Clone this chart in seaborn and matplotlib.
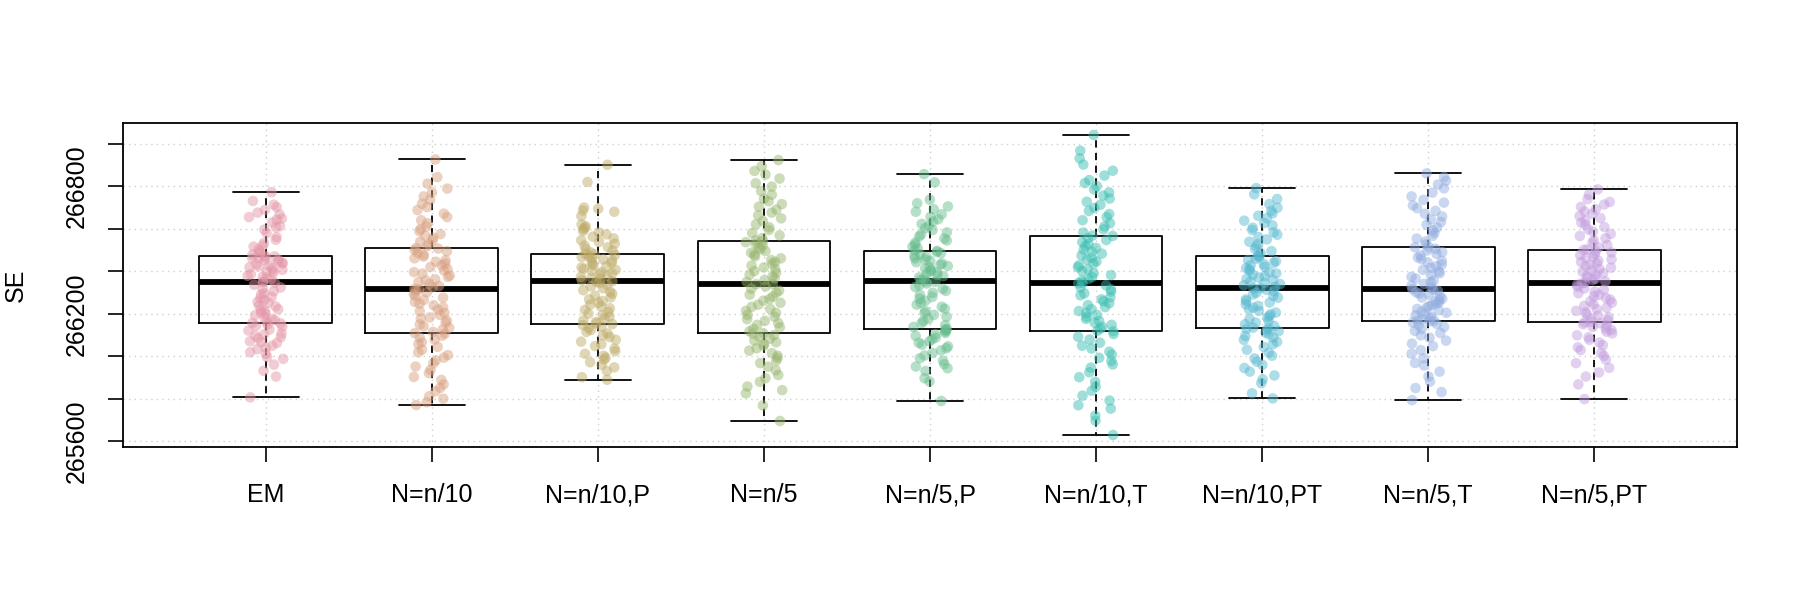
import numpy as np
import pandas as pd
import matplotlib
matplotlib.use("Agg")
import matplotlib.pyplot as plt
import seaborn as sns

categories = ["EM", "N=n/10", "N=n/10,P", "N=n/5", "N=n/5,P",
              "N=n/10,T", "N=n/10,PT", "N=n/5,T", "N=n/5,PT"]

se_em = [265807, 265905, 265932, 265961, 265988, 265996, 266012, 266019, 266034, 266041,
         266050, 266063, 266066, 266071, 266084, 266090, 266097, 266103, 266108, 266121,
         266126, 266139, 266144, 266150, 266155,
         266157, 266162, 266170, 266176, 266181, 266193, 266199, 266205, 266214, 266219,
         266221, 266235, 266238, 266252, 266256, 266264, 266273, 266279, 266291, 266297,
         266306, 266318, 266324, 266337, 266347,
         266349, 266352, 266361, 266370, 266374, 266379, 266386, 266393, 266398, 266404,
         266407, 266415, 266419, 266423, 266428, 266432, 266437, 266441, 266446, 266452,
         266455, 266461, 266463, 266467, 266470,
         266472, 266478, 266487, 266494, 266503, 266516, 266521, 266533, 266548, 266561,
         266579, 266596, 266607, 266612, 266630, 266642, 266648, 266655, 266668, 266676,
         266689, 266702, 266713, 266731, 266772]

se_n10 = [265771, 265784, 265801, 265812, 265836, 265852, 265868, 265889, 265903, 265921,
          265937, 265952, 265968, 265981, 265994, 266006, 266019, 266031, 266045, 266058,
          266066, 266079, 266088, 266097, 266107,
          266109, 266115, 266126, 266134, 266141, 266150, 266159, 266168, 266177, 266183,
          266195, 266204, 266212, 266219, 266231, 266240, 266248, 266256, 266265, 266276,
          266284, 266293, 266301, 266309, 266315,
          266317, 266325, 266331, 266340, 266349, 266357, 266362, 266374, 266380, 266389,
          266396, 266404, 266411, 266420, 266428, 266437, 266445, 266452, 266461, 266469,
          266477, 266486, 266494, 266500, 266507,
          266509, 266518, 266527, 266539, 266546, 266558, 266567, 266575, 266589, 266598,
          266611, 266626, 266640, 266655, 266671, 266688, 266702, 266718, 266736, 266752,
          266771, 266789, 266812, 266843, 266926]

se_n10_p = [265890, 265902, 265931, 265948, 265960, 265972, 265985, 265994, 266003, 266012,
            266024, 266036, 266048, 266057, 266069, 266078, 266091, 266099, 266108, 266115,
            266124, 266133, 266140, 266147, 266152,
            266155, 266161, 266169, 266178, 266186, 266194, 266201, 266209, 266218, 266226,
            266235, 266243, 266252, 266260, 266268, 266277, 266285, 266294, 266303, 266311,
            266320, 266329, 266337, 266345, 266351,
            266353, 266358, 266363, 266369, 266374, 266380, 266386, 266391, 266396, 266402,
            266407, 266412, 266418, 266423, 266428, 266434, 266440, 266445, 266451, 266456,
            266462, 266467, 266472, 266477, 266480,
            266482, 266489, 266497, 266505, 266513, 266521, 266530, 266538, 266546, 266555,
            266563, 266574, 266583, 266590, 266598, 266605, 266612, 266620, 266660, 266680,
            266686, 266694, 266700, 266820, 266901]

se_n5 = [265696, 265769, 265826, 265841, 265858, 265880, 265897, 265912, 265934, 265951,
         265968, 265979, 265992, 266003, 266015, 266027, 266038, 266049, 266058, 266066,
         266074, 266083, 266091, 266100, 266107,
         266109, 266118, 266129, 266137, 266148, 266156, 266167, 266175, 266186, 266195,
         266205, 266214, 266223, 266233, 266243, 266252, 266262, 266270, 266281, 266290,
         266299, 266309, 266318, 266329, 266339,
         266341, 266350, 266358, 266367, 266376, 266384, 266393, 266401, 266410, 266418,
         266427, 266436, 266444, 266453, 266461, 266470, 266478, 266487, 266495, 266504,
         266512, 266521, 266529, 266537, 266543,
         266545, 266556, 266569, 266580, 266594, 266607, 266621, 266636, 266649, 266663,
         266676, 266690, 266704, 266716, 266729, 266741, 266760, 266777, 266798, 266814,
         266836, 266855, 266872, 266894, 266923]

se_n5_p = [265790, 265882, 265897, 265931, 265944, 265952, 265963, 265979, 265991, 266004,
           266016, 266028, 266038, 266047, 266055, 266064, 266071, 266080, 266088, 266096,
           266104, 266110, 266117, 266122, 266126,
           266129, 266138, 266147, 266157, 266166, 266176, 266186, 266195, 266204, 266214,
           266224, 266233, 266243, 266252, 266262, 266271, 266280, 266289, 266299, 266308,
           266317, 266326, 266334, 266343, 266351,
           266353, 266359, 266365, 266371, 266377, 266383, 266389, 266395, 266401, 266407,
           266413, 266419, 266425, 266431, 266437, 266443, 266449, 266455, 266461, 266467,
           266473, 266479, 266485, 266491, 266496,
           266498, 266507, 266516, 266526, 266535, 266545, 266554, 266564, 266573, 266583,
           266594, 266603, 266613, 266623, 266634, 266645, 266656, 266668, 266680, 266692,
           266705, 266720, 266737, 266818, 266857]

se_n10_t = [265630, 265698, 265721, 265754, 265770, 265792, 265815, 265838, 265857, 265880,
            265902, 265925, 265947, 265962, 265978, 265993, 266008, 266022, 266037, 266050,
            266064, 266079, 266092, 266105, 266118,
            266120, 266130, 266139, 266148, 266158, 266167, 266176, 266186, 266195, 266204,
            266213, 266222, 266232, 266241, 266250, 266259, 266268, 266278, 266287, 266296,
            266305, 266315, 266324, 266334, 266344,
            266346, 266355, 266364, 266373, 266382, 266391, 266400, 266410, 266419, 266428,
            266437, 266446, 266455, 266464, 266474, 266483, 266492, 266501, 266510, 266519,
            266528, 266537, 266547, 266556, 266566,
            266568, 266582, 266597, 266611, 266626, 266640, 266655, 266669, 266684, 266698,
            266713, 266727, 266742, 266756, 266771, 266785, 266800, 266815, 266829, 266850,
            266873, 266902, 266931, 266967, 267041]

se_n10_pt = [265802, 265826, 265874, 265892, 265910, 265928, 265945, 265960, 265975, 265990,
             266003, 266017, 266031, 266044, 266057, 266068, 266078, 266088, 266096, 266104,
             266112, 266118, 266124, 266129, 266132,
             266135, 266143, 266151, 266159, 266167, 266175, 266182, 266190, 266198, 266206,
             266214, 266221, 266229, 266237, 266245, 266253, 266260, 266268, 266276, 266284,
             266291, 266299, 266306, 266313, 266319,
             266321, 266327, 266334, 266340, 266346, 266352, 266359, 266365, 266371, 266377,
             266384, 266390, 266396, 266403, 266409, 266415, 266421, 266428, 266434, 266440,
             266447, 266453, 266459, 266466, 266472,
             266474, 266484, 266495, 266506, 266517, 266528, 266539, 266550, 266561, 266572,
             266583, 266594, 266605, 266616, 266627, 266638, 266650, 266661, 266672, 266684,
             266699, 266716, 266740, 266762, 266791]

se_n5_t = [265794, 265832, 265851, 265881, 265905, 265928, 265957, 265969, 265991, 266012,
           266029, 266048, 266060, 266074, 266088, 266099, 266110, 266120, 266129, 266138,
           266146, 266153, 266159, 266164, 266167,
           266169, 266175, 266181, 266187, 266193, 266199, 266205, 266211, 266217, 266223,
           266229, 266235, 266241, 266247, 266253, 266259, 266265, 266271, 266277, 266283,
           266289, 266295, 266301, 266308, 266314,
           266316, 266324, 266332, 266341, 266349, 266357, 266366, 266374, 266382, 266391,
           266399, 266407, 266415, 266424, 266432, 266440, 266449, 266457, 266465, 266474,
           266482, 266490, 266498, 266506, 266513,
           266515, 266528, 266541, 266554, 266567, 266580, 266593, 266606, 266619, 266632,
           266645, 266658, 266671, 266684, 266697, 266710, 266723, 266736, 266752, 266770,
           266790, 266808, 266826, 266843, 266860]

se_n5_pt = [265799, 265868, 265905, 265924, 265946, 265968, 265985, 266002, 266016, 266029,
            266042, 266053, 266065, 266078, 266090, 266099, 266108, 266116, 266124, 266131,
            266138, 266145, 266151, 266156, 266160,
            266162, 266169, 266177, 266184, 266192, 266199, 266207, 266214, 266222, 266229,
            266237, 266244, 266252, 266259, 266267, 266274, 266282, 266289, 266297, 266304,
            266312, 266319, 266327, 266336, 266344,
            266346, 266352, 266359, 266365, 266372, 266378, 266385, 266391, 266398, 266404,
            266411, 266417, 266424, 266430, 266437, 266443, 266450, 266456, 266463, 266469,
            266476, 266482, 266489, 266495, 266501,
            266503, 266513, 266524, 266534, 266545, 266555, 266566, 266576, 266587, 266597,
            266608, 266618, 266629, 266639, 266650, 266660, 266671, 266681, 266692, 266703,
            266714, 266726, 266740, 266760, 266785]

series = [se_em, se_n10, se_n10_p, se_n5, se_n5_p, se_n10_t, se_n10_pt, se_n5_t, se_n5_pt]

point_colors = ["#E495A5", "#D89F7F", "#BDAB66", "#96B56C", "#65BC8C",
                "#39BEB1", "#55B8D0", "#91ACE1", "#C29DDE"]

ytick_values = [265600, 265800, 266000, 266200, 266400, 266600, 266800, 267000]
ytick_labels = ["265600", "", "", "266200", "", "", "266800", ""]
y_label = "SE"

df = pd.DataFrame({
    "method": np.repeat(categories, [len(s) for s in series]),
    "SE": np.concatenate([np.asarray(s, dtype=float) for s in series]),
})

sns.set_theme(style="ticks")
plt.rcParams["font.family"] = ["Liberation Sans", "DejaVu Sans"]

fig = plt.figure(figsize=(18, 6), dpi=100)
ax = fig.add_axes([123 / 1800, 153 / 600, 1614 / 1800, 324 / 600])

sns.boxplot(data=df, x="method", y="SE", order=categories, fill=False,
            color="black", linecolor="black", width=0.8, whis=1.5,
            showfliers=False, linewidth=1.3,
            medianprops=dict(linewidth=4.2, color="black"),
            whiskerprops=dict(linestyle=(0, (4, 3)), linewidth=1.3, color="black"),
            capprops=dict(linewidth=1.3, color="black"),
            boxprops=dict(linewidth=1.3, color="black"),
            ax=ax)

np.random.seed(7)
sns.stripplot(data=df, x="method", y="SE", order=categories, hue="method",
              hue_order=categories, palette=point_colors, jitter=0.11,
              size=7.6, alpha=0.48, linewidth=0, legend=False, zorder=3, ax=ax)

n = len(categories)
ax.set_xlim(-0.5 - 0.04 * n, n - 0.5 + 0.04 * n)
vals = df["SE"].to_numpy()
rng = vals.max() - vals.min()
ax.set_ylim(vals.min() - 0.04 * rng, vals.max() + 0.04 * rng)

ax.set_yticks(ytick_values)
ax.set_yticklabels(ytick_labels, rotation=90, va="center")
ax.set_xticks(range(n))
ax.set_xticklabels(categories)

ax.grid(True, linestyle=(0, (1, 3)), color="#CFCFCF", linewidth=1.0)
ax.set_axisbelow(True)

for sp in ax.spines.values():
    sp.set_visible(True)
    sp.set_color("black")
    sp.set_linewidth(1.3)

ax.tick_params(axis="both", direction="out", length=11, width=1.2,
               color="black", labelsize=18, labelcolor="black")
ax.tick_params(axis="x", pad=15)
ax.tick_params(axis="y", pad=14)

ax.set_xlabel("")
ax.set_ylabel(y_label, fontsize=18, color="black", labelpad=26)

fig.savefig("out.png", dpi=100, facecolor="white")
